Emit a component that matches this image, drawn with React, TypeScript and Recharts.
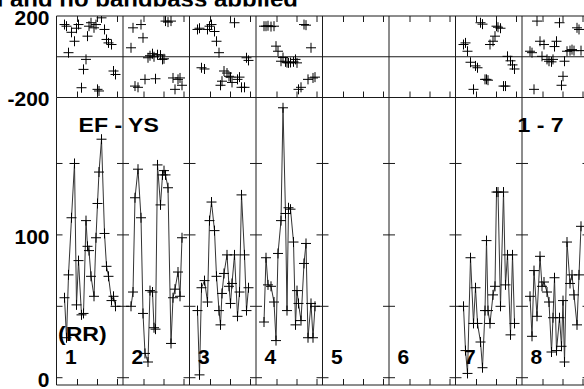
import React from 'react';
import { LineChart, Line, XAxis, YAxis, ReferenceLine } from 'recharts';

// sample times (minutes) within each channel panel; panels share the time base
const TIMES = [7, 9, 11, 14, 17, 19, 21, 24, 26, 28.5, 30, 31.5, 33.5, 36.5, 38.5, 40, 41.5, 44, 47, 49, 51, 54, 56, 58];
const CHANNELS = ['1', '2', '3', '4', '5', '6', '7', '8'];

// amplitudes per channel (channels 5 and 6 flagged)
const AMP_1 = [56, 28, 72, 112, 150, 51, 82, 44, 45, 110, 92, 89, 71, 57, 98, 122, 144, 167, 101, 78, 71, 54, 57, 50];
const AMP_2 = [50, 60, 126, 146, 112, 45, 17, 11, 61, 60, 35, 34, 149, 121, 142, 145, 142, 133, 24, 56, 62, 74, 57, 98];
const AMP_3 = [47, 2, 63, 68, 53, 110, 123, 103, 71, 47, 37, 59, 73, 86, 64, 52, 66, 86, 43, 60, 128, 86, 47, 63];
const AMP_4 = [39, 84, 65, 64, 53, 26, 87, 110, 189, 115, 47, 119, 118, 95, 37, 61, 52, 40, 80, 94, 28, 52, 28, 50];
const AMP_7 = [50, 19, 3, 84, 38, 63, 38, 25, 7, 47, 96, 47, 38, 58, 64, 130, 130, 50, 130, 65, 86, 30, 86, 38];
const AMP_8 = [57, 29, 75, 43, 85, 64, 67, 60, 53, 18, 42, 70, 19, 42, 22, 54, 11, 95, 66, 72, 58, 37, 72, 106];

// phases per channel (degrees)
const PH_1 = [158, 150, 20, 120, 76, 140, 158, -152, -62, -13, 101, 150, 167, 142, 158, -160, -168, 191, 134, 85, 68, 60, -70, -87];
const PH_2 = [44, 142, -144, -150, 158, 93, -111, -5, 5, 15, 0, -108, 10, 8, -13, -10, 175, 170, 175, -104, -160, -111, -104, -140];
const PH_3 = [134, 140, -54, -60, 134, 150, 158, 124, 76, 20, -140, -120, -70, -80, -96, -100, -126, 167, -111, -100, -150, -150, -5, -18];
const PH_4 = [150, 150, 152, 148, 150, 52, 27, -22, -4, -25, -29, -30, -28, -25, -13, -30, -160, -150, 158, 155, -111, 44, -104, -100];
const PH_7 = [60, 68, 27, -27, -160, -45, -54, 167, 160, -111, -111, -115, 60, 76, 101, 150, 145, 140, -144, -144, 2, -20, -40, -60];
const PH_8 = [27, 20, -160, 175, 76, 2, 60, -13, -22, -25, -13, 50, 76, 167, -140, -96, -22, 27, 30, 35, 30, 142, 134, 30];

const AMP_BY_CH: (number[] | null)[] = [AMP_1, AMP_2, AMP_3, AMP_4, null, null, AMP_7, AMP_8];
const PH_BY_CH: (number[] | null)[] = [PH_1, PH_2, PH_3, PH_4, null, null, PH_7, PH_8];

const PANEL_SPAN = 66.5;
const PANEL_START = -1;
const TIME_TICKS = [20, 40, 60];
const AMP_LABEL_TICKS = [0, 100];
const AMP_MINOR_TICKS = [0, 50, 100, 150];
const PHASE_LABEL_TICKS = [200, -200];
const AMP_DOMAIN: [number, number] = [-5.1, 196.2];
const PHASE_DOMAIN: [number, number] = [-200, 200];

const X_DOMAIN: [number, number] = [PANEL_START, PANEL_START + PANEL_SPAN * CHANNELS.length];

type Row = { x: number; amp: number | null; ph: number | null };
const rows: Row[] = [];
AMP_BY_CH.forEach((amps, c) => {
  const phs = PH_BY_CH[c];
  if (!amps || !phs) return;
  TIMES.forEach((t, i) => {
    rows.push({ x: c * PANEL_SPAN + t, amp: amps[i], ph: phs[i] });
  });
  rows.push({ x: c * PANEL_SPAN + 62, amp: null, ph: null });
});

const FONT = '"Liberation Sans", Arial, Helvetica, sans-serif';
const LINE_C = '#1a1a1a';

const crossFor = (key: 'amp' | 'ph') => (props: any) => {
  const { cx, cy, index, payload } = props;
  const k = `${key}-${index}`;
  if (cx == null || cy == null || !payload || payload[key] == null || isNaN(cy)) return <g key={k} />;
  return (
    <path
      key={k}
      d={`M${cx - 5},${cy}H${cx + 5}M${cx},${cy - 5}V${cy + 5}`}
      stroke="#000"
      strokeWidth={1}
      fill="none"
    />
  );
};

const yTick = (props: any) => {
  const { y, payload } = props;
  return (
    <text
      x={49.5}
      y={y + 8.8}
      textAnchor="end"
      fontFamily={FONT}
      fontWeight="bold"
      fontSize={21}
      fill="#000"
    >
      {payload.value}
    </text>
  );
};

const borders = Array.from({ length: CHANNELS.length + 1 }, (_, p) => PANEL_START + p * PANEL_SPAN);

function timeTicks(yFrom: number, yTo: number, prefix: string) {
  const out: React.ReactElement[] = [];
  CHANNELS.forEach((_, c) => {
    TIME_TICKS.forEach((t) => {
      const x = c * PANEL_SPAN + t;
      out.push(
        <ReferenceLine
          key={`${prefix}-${c}-${t}`}
          segment={[{ x, y: yFrom }, { x, y: yTo }]}
          stroke={LINE_C}
          strokeWidth={1}
        />
      );
    });
  });
  return out;
}

function borderTicks() {
  const out: React.ReactElement[] = [];
  borders.forEach((bx, p) => {
    AMP_MINOR_TICKS.forEach((v) => {
      const x1 = p === 0 ? bx : bx - 6;
      const x2 = p === borders.length - 1 ? bx : bx + 6;
      out.push(
        <ReferenceLine
          key={`bt-${p}-${v}`}
          segment={[{ x: x1, y: v }, { x: x2, y: v }]}
          stroke={LINE_C}
          strokeWidth={1}
        />
      );
    });
  });
  return out;
}

const ampTickH = 6 / (287.5 / (AMP_DOMAIN[1] - AMP_DOMAIN[0]));
const phTickH = 6 / (81.5 / (PHASE_DOMAIN[1] - PHASE_DOMAIN[0]));

const Wide = ({ x, y, children }: { x: number; y: number; children: React.ReactNode }) => (
  <text transform={`matrix(1.1,0,0,1,${x},${y})`} fontSize={21}>
    {children}
  </text>
);

export default function App() {
  return (
    <div
      style={{
        position: 'fixed',
        left: 0,
        top: 0,
        width: 584,
        height: 389,
        overflow: 'hidden',
        background: '#fff',
      }}
    >
      {/* phase panel */}
      <div style={{ position: 'absolute', left: 0, top: 0 }}>
        <LineChart width={600} height={389} data={rows} margin={{ top: 16, right: 11.5, bottom: 291.5, left: 0.5 }}>
          <XAxis type="number" dataKey="x" domain={X_DOMAIN} hide allowDataOverflow />
          <YAxis
            type="number"
            domain={PHASE_DOMAIN}
            ticks={PHASE_LABEL_TICKS}
            width={56}
            axisLine={false}
            tickLine={false}
            tick={yTick}
            allowDataOverflow
          />
          {borders.map((bx) => (
            <ReferenceLine key={`pv-${bx}`} x={bx} stroke={LINE_C} strokeWidth={1} />
          ))}
          <ReferenceLine y={PHASE_DOMAIN[1]} stroke={LINE_C} strokeWidth={1} />
          <ReferenceLine y={0} stroke={LINE_C} strokeWidth={1} />
          <ReferenceLine y={PHASE_DOMAIN[0]} stroke={LINE_C} strokeWidth={1} />
          {timeTicks(PHASE_DOMAIN[1], PHASE_DOMAIN[1] - phTickH, 'pt')}
          {timeTicks(PHASE_DOMAIN[0], PHASE_DOMAIN[0] + phTickH, 'pb')}
          <Line
            type="linear"
            dataKey="ph"
            stroke="none"
            strokeWidth={0}
            dot={crossFor('ph')}
            activeDot={false}
            isAnimationActive={false}
            connectNulls={false}
          />
        </LineChart>
      </div>

      {/* amplitude panel */}
      <div style={{ position: 'absolute', left: 0, top: 0 }}>
        <LineChart width={600} height={389} data={rows} margin={{ top: 97.5, right: 11.5, bottom: 4, left: 0.5 }}>
          <XAxis type="number" dataKey="x" domain={X_DOMAIN} hide allowDataOverflow />
          <YAxis
            type="number"
            domain={AMP_DOMAIN}
            ticks={AMP_LABEL_TICKS}
            width={56}
            axisLine={false}
            tickLine={false}
            tick={yTick}
            allowDataOverflow
          />
          {borders.map((bx) => (
            <ReferenceLine key={`av-${bx}`} x={bx} stroke={LINE_C} strokeWidth={1} />
          ))}
          <ReferenceLine y={AMP_DOMAIN[0]} stroke={LINE_C} strokeWidth={1} />
          {timeTicks(AMP_DOMAIN[0], AMP_DOMAIN[0] + ampTickH, 'ab')}
          {borderTicks()}
          <Line
            type="linear"
            dataKey="amp"
            stroke="#333"
            strokeWidth={1}
            dot={crossFor('amp')}
            activeDot={false}
            isAnimationActive={false}
            connectNulls={false}
          />
        </LineChart>
      </div>

      {/* text labels */}
      <svg
        width={584}
        height={389}
        style={{ position: 'absolute', left: 0, top: 0, pointerEvents: 'none' }}
        fontFamily={FONT}
        fontWeight="bold"
        fill="#000"
      >
        <defs>
          <clipPath id="titleClip">
            <rect x={0} y={0} width={584} height={6.5} />
          </clipPath>
        </defs>
        <text x={298} y={6.5} textAnchor="end" fontSize={24} clipPath="url(#titleClip)">
          d and no bandpass applied
        </text>
        <Wide x={78.5} y={132}>EF - YS</Wide>
        <Wide x={517.5} y={132}>1 - 7</Wide>
        <Wide x={58} y={341}>(RR)</Wide>
        {CHANNELS.map((ch, c) => (
          <text key={`ch-${ch}`} x={56.5 + c * PANEL_SPAN + 8.5} y={363.5} fontSize={21}>
            {ch}
          </text>
        ))}
      </svg>
    </div>
  );
}
